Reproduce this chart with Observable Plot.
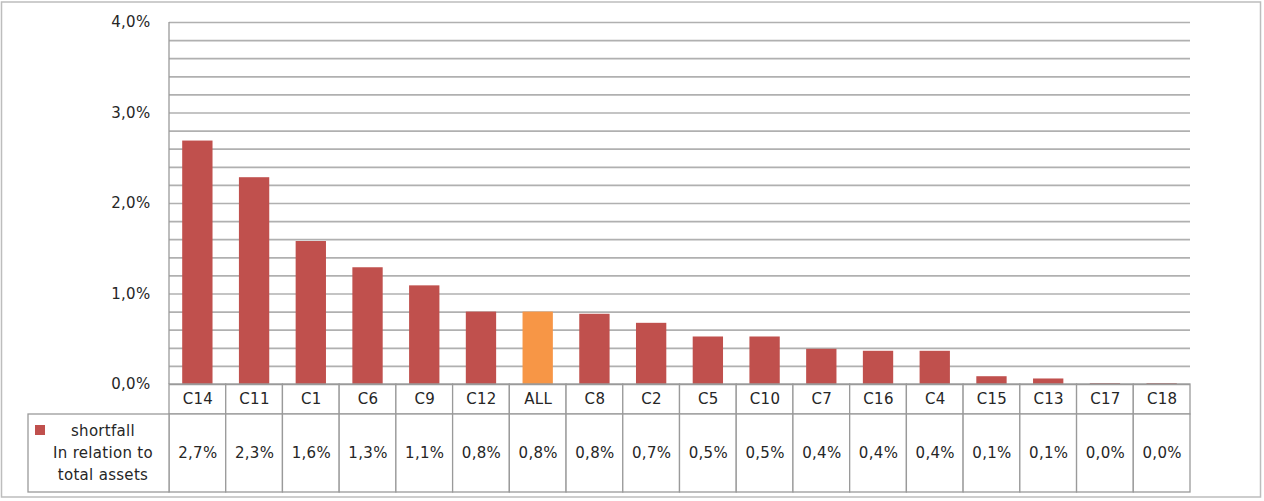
<!DOCTYPE html>
<html><head><meta charset="utf-8">
<script src="https://cdn.jsdelivr.net/npm/d3@7"></script>
<script src="https://cdn.jsdelivr.net/npm/@observablehq/plot@0.6"></script>
<style>
body{margin:0;background:#fff;}
#chart{position:relative;width:1264px;height:501px;}
#chart svg{display:block;}
</style>
</head><body><div id="chart"></div>
<script>
const categories = ["C14","C11","C1","C6","C9","C12","ALL","C8","C2","C5","C10","C7","C16","C4","C15","C13","C17","C18"];
const shortfall = [2.69,2.285,1.58,1.29,1.09,0.80,0.80,0.776,0.676,0.525,0.525,0.389,0.367,0.367,0.086,0.061,0.01,0.01];
const highlightCategory = "ALL";
const yTicks = [0,1,2,3,4];
const gridTicks = [0.2,0.4,0.6,0.8,1.0,1.2,1.4,1.6,1.8,2.0,2.2,2.4,2.6,2.8,3.0,3.2,3.4,3.6,3.8,4.0];
const seriesName = "shortfall";
const seriesNote = ["In relation to","total assets"];

const data = categories.map((c, i) => ({cat: c, value: shortfall[i]}));
const fmt = v => v.toFixed(1).replace(".", ",") + "%";

const W = 1264, H = 501;
const mTop = 22, mBottom = 117, mLeft = 169, mRight = 74;
const pxPerUnit = (H - mTop - mBottom) / 4;
const headerBottom = -30 / pxPerUnit;   // table header row (category names)
const tableBottom = -108 / pxPerUnit;   // table value row
const headerMid = headerBottom / 2;
const valueMid = (headerBottom + tableBottom) / 2;

const FONT = "DejaVu Sans, sans-serif";
const TXT = "#262626";
const BORDER = "#9a9a9a";
const FS = 15;

const plot = Plot.plot({
  width: W, height: H,
  marginTop: mTop, marginBottom: mBottom, marginLeft: mLeft, marginRight: mRight,
  style: {fontFamily: FONT, fontSize: FS + "px", color: TXT, background: "transparent", letterSpacing: "0.3px"},
  x: {domain: categories, padding: 0, round: false, axis: null},
  y: {domain: [0, 4], axis: null},
  marks: [
    Plot.ruleY(gridTicks, {stroke: "#b0b0b0", strokeWidth: 1.7}),
    Plot.barY(data, {
      x: "cat", y: "value",
      fill: d => d.cat === highlightCategory ? "#F79646" : "#C0504D",
      insetLeft: 13.2, insetRight: 13.2
    }),
    // table: header cells
    Plot.barY(data, {x: "cat", y1: () => 0, y2: () => headerBottom, fill: "white", stroke: BORDER, strokeWidth: 1.3}),
    // table: value cells
    Plot.barY(data, {x: "cat", y1: () => headerBottom, y2: () => tableBottom, fill: "white", stroke: BORDER, strokeWidth: 1.3}),
    Plot.text(data, {x: "cat", y: () => headerMid, text: "cat", fill: TXT, fontSize: FS}),
    Plot.text(data, {x: "cat", y: () => valueMid, text: d => fmt(d.value), fill: TXT, fontSize: FS}),
    Plot.axisY(yTicks, {tickFormat: fmt, tickSize: 0, tickPadding: 19, label: null, fontSize: FS, fill: TXT}),
    Plot.ruleY([0], {stroke: BORDER, strokeWidth: 1.3})
  ]
});

const svg = d3.select(plot);
const y = plot.scale("y");
const xL = 28, xR = mLeft;
const yTop = y.apply(headerBottom), yBot = y.apply(tableBottom);

// left axis line
svg.append("line").attr("x1", mLeft).attr("x2", mLeft)
  .attr("y1", y.apply(4)).attr("y2", y.apply(0))
  .attr("stroke", BORDER).attr("stroke-width", 1.3);

// legend cell
const g = svg.append("g");
g.append("rect").attr("x", xL).attr("y", yTop).attr("width", xR - xL).attr("height", yBot - yTop)
  .attr("fill", "white").attr("stroke", BORDER).attr("stroke-width", 1.3);
g.append("rect").attr("x", 35).attr("y", yTop + 11).attr("width", 10).attr("height", 10).attr("fill", "#C0504D");
const lines = [seriesName, ...seriesNote];
lines.forEach((t, i) => {
  g.append("text").attr("x", 103).attr("y", yTop + 17 + i * 22)
    .attr("text-anchor", "middle").attr("dominant-baseline", "middle")
    .attr("font-family", FONT).attr("font-size", FS).attr("letter-spacing", "0.3px")
    .attr("fill", TXT).text(t);
});

// outer chart border
svg.append("rect").attr("x", 1.5).attr("y", 2).attr("width", 1259).attr("height", 495)
  .attr("fill", "none").attr("stroke", "#bdbdbd").attr("stroke-width", 1.5);

document.getElementById("chart").appendChild(plot);
</script>
</body></html>
